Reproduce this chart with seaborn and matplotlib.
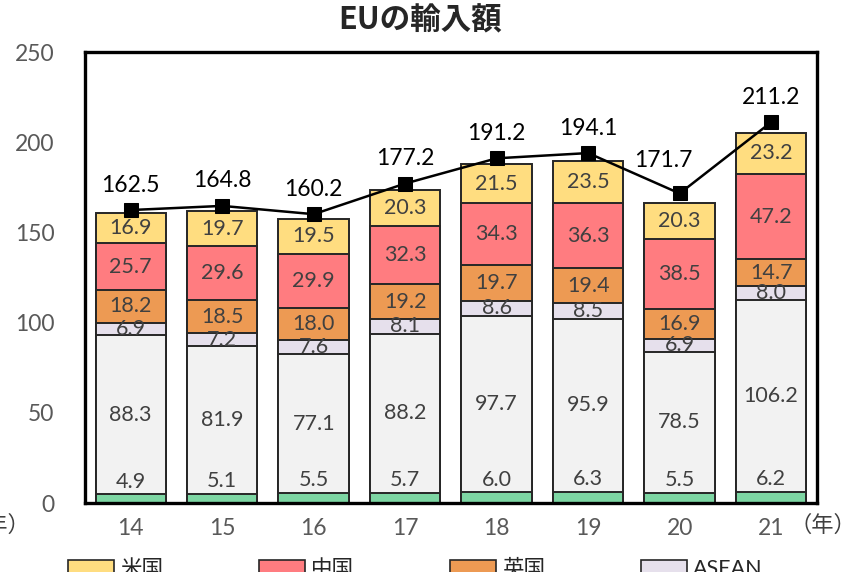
import numpy as np
import pandas as pd
import matplotlib
matplotlib.use("Agg")
import matplotlib.pyplot as plt
import seaborn as sns
from matplotlib.patches import Patch

sns.set_style("white")
plt.rcParams['font.family'] = ['Lato', 'Noto Sans CJK JP', 'DejaVu Sans']

# Data (bottom -> top)
years = ["14", "15", "16", "17", "18", "19", "20", "21"]
japan = [4.9, 5.1, 5.5, 5.7, 6.0, 6.3, 5.5, 6.2]
other = [88.3, 81.9, 77.1, 88.2, 97.7, 95.9, 78.5, 106.2]
asean = [6.9, 7.2, 7.6, 8.1, 8.6, 8.5, 6.9, 8.0]
uk = [18.2, 18.5, 18.0, 19.2, 19.7, 19.4, 16.9, 14.7]
china = [25.7, 29.6, 29.9, 32.3, 34.3, 36.3, 38.5, 47.2]
usa = [16.9, 19.7, 19.5, 20.3, 21.5, 23.5, 20.3, 23.2]
total = [162.5, 164.8, 160.2, 177.2, 191.2, 194.1, 171.7, 211.2]

series = [("日本", japan, "#7DD6A3"),
          ("その他", other, "#F2F2F2"),
          ("ASEAN", asean, "#E6E0EC"),
          ("英国", uk, "#ED9A53"),
          ("中国", china, "#FF7C80"),
          ("米国", usa, "#FFDD80")]

df = pd.DataFrame({"year": years})
cum = np.zeros(len(years))
for name, vals, _ in series:
    cum = cum + np.array(vals)
    df[name + "_cum"] = cum
df["pos"] = np.arange(len(years))
df["total"] = total

fig = plt.figure(figsize=(8.56, 5.72), dpi=100)
ax = fig.add_axes([0.0993, 0.1206, 0.855, 0.788])

# stacked bars: draw cumulative heights from top layer down
for name, vals, color in reversed(series):
    sns.barplot(data=df, x="year", y=name + "_cum", color=color, width=0.77,
                edgecolor="#262626", linewidth=1.4, saturation=1, ax=ax, zorder=2)

# segment labels
lab_col = "#404040"
base = np.zeros(len(years))
for i, (name, vals, color) in enumerate(series):
    vals = np.array(vals)
    for j, v in enumerate(vals):
        if i == 0:
            y = base[j] + v + 7
        else:
            y = base[j] + v / 2
        ax.text(j, y, f"{v:.1f}", ha="center", va="center", fontsize=15.5,
                color=lab_col, zorder=5)
    base = base + vals

# total line
sns.lineplot(data=df, x="pos", y="total", color="black", marker="s",
             markersize=10, markeredgecolor="black", linewidth=1.8, ax=ax,
             zorder=4)
for j, t in enumerate(total):
    dx = -12 if years[j] == "20" else 0
    dy = 24 if years[j] == "20" else 18
    ax.annotate(f"{t:.1f}", (j, t), xytext=(dx, dy), textcoords="offset points",
                ha="center", va="center", fontsize=16.5, color="black", zorder=6)

ax.set_xlim(-0.5, len(years) - 0.5)
ax.set_ylim(0, 250)
ax.set_yticks([0, 50, 100, 150, 200, 250])
ax.set_xlabel("")
ax.set_ylabel("")
ax.tick_params(axis="both", length=0, labelsize=16.5, labelcolor="#595959")
ax.tick_params(axis="x", pad=11)
ax.tick_params(axis="y", pad=22)
for s in ax.spines.values():
    s.set_visible(True)
    s.set_color("black")
    s.set_linewidth(2.4)

fig.text(420 / 856, 0.965, "EUの輸入額", ha="center", va="center", fontsize=22,
         fontweight="bold", family=['Noto Sans CJK JP', 'DejaVu Sans'])
fig.text(1.0, 1 - 525 / 572, "（年）", ha="right", va="center", fontsize=16,
         color="#404040", family=['Noto Sans CJK JP', 'DejaVu Sans'])
fig.text(30 / 856, 1 - 525 / 572, "（年）", ha="right", va="center", fontsize=16,
         color="#404040", family=['Noto Sans CJK JP', 'DejaVu Sans'])

# legend sits at the bottom edge, partly cut like the original
handles = [Patch(facecolor=c, edgecolor="#262626", linewidth=1.2, label=n)
           for n, _, c in reversed(series)][:4]
fig.legend(handles=handles, ncol=4, loc="center left",
           bbox_to_anchor=(68 / 856, 1 - 569 / 572), frameon=False,
           fontsize=15.5, handlelength=2.14, handleheight=0.75,
           handletextpad=0.28, columnspacing=4.45, borderpad=0,
           borderaxespad=0)

fig.savefig("out.png", dpi=100)
